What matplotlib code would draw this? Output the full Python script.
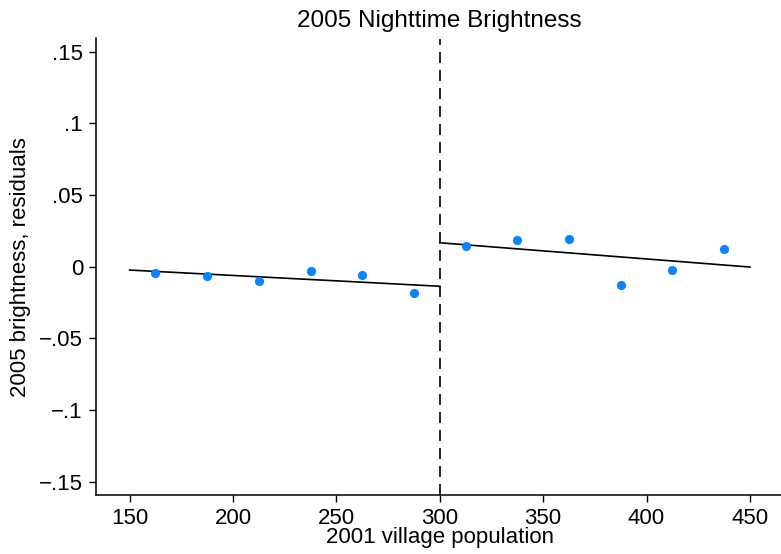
import matplotlib
matplotlib.use("Agg")
import matplotlib.pyplot as plt

bin_centers = [162.5, 187.5, 212.5, 237.5, 262.5, 287.5,
               312.5, 337.5, 362.5, 387.5, 412.5, 437.5]
residuals = [-0.0046, -0.0065, -0.0102, -0.0028, -0.0058, -0.0183,
             0.0144, 0.0184, 0.0191, -0.0129, -0.0023, 0.0123]
fit_left_x = [150, 300]
fit_left_y = [-0.0023, -0.0136]
fit_right_x = [300, 450]
fit_right_y = [0.0167, -0.0002]
cutoff = 300
xticks = [150, 200, 250, 300, 350, 400, 450]
yticks = [-0.15, -0.1, -0.05, 0, 0.05, 0.1, 0.15]
ytick_labels = ["\u2212.15", "\u2212.1", "\u2212.05", "0", ".05", ".1", ".15"]

plt.rcParams['font.family'] = ['Liberation Sans', 'DejaVu Sans']

fig = plt.figure(figsize=(7.81, 5.54), dpi=100)
W, H = 781, 554
left_px, right_px, top_px, bottom_px = 95.5, 784, 38.5, 495
ax = fig.add_axes([left_px / W, (H - bottom_px) / H,
                   (right_px - left_px) / W, (bottom_px - top_px) / H])

ax.scatter(bin_centers, residuals, s=44, color='#0a84ff', zorder=3, linewidths=0)
ax.plot(fit_left_x, fit_left_y, color='black', lw=1.2, zorder=2)
ax.plot(fit_right_x, fit_right_y, color='black', lw=1.2, zorder=2)
ax.axvline(cutoff, color='black', lw=1.2, dashes=(6.6, 4.2), zorder=1)

ax.set_xlim(133.5, 466.5)
ax.set_ylim(-0.1591, 0.1591)
ax.set_xticks(xticks)
ax.set_yticks(yticks)
ax.set_yticklabels(ytick_labels)
ax.tick_params(axis='both', direction='out', length=5, width=1, labelsize=16, pad=4)
for s in ['top', 'right']:
    ax.spines[s].set_visible(False)
for s in ['left', 'bottom']:
    ax.spines[s].set_linewidth(1.1)

ax.set_xlabel("2001 village population", fontsize=16, labelpad=-1)
ax.set_ylabel("2005 brightness, residuals", fontsize=16, labelpad=6)
ax.set_title("2005 Nighttime Brightness", fontsize=17.5, pad=8)

fig.savefig("out.png", dpi=100)
